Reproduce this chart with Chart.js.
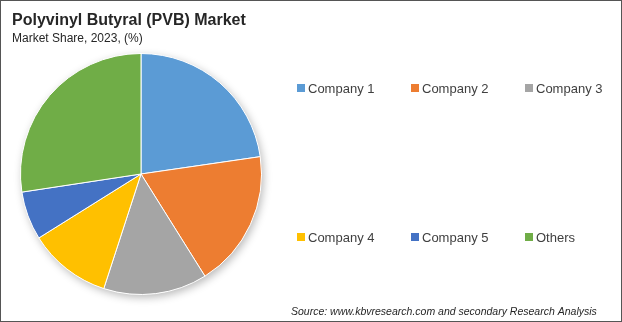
<!DOCTYPE html>
<html>
<head>
<meta charset="utf-8">
<script src="https://cdn.jsdelivr.net/npm/chart.js@4/dist/chart.umd.min.js"></script>
<style>
  html, body { margin: 0; padding: 0; background: #fff; }
  #wrap { width: 622px; height: 322px; position: relative; }
  canvas { display: block; }
</style>
</head>
<body>
<div id="wrap"><canvas id="chart" width="622" height="322"></canvas></div>
<script>
// Market share by company
const companies = ['Company 1', 'Company 2', 'Company 3', 'Company 4', 'Company 5', 'Others'];
const shares = [22.7, 18.4, 13.9, 11.1, 6.5, 27.4];
const sliceColors = ['#5B9BD5', '#ED7D31', '#A5A5A5', '#FFC000', '#4472C4', '#70AD47'];

// soft shadow under the pie
const pieShadow = {
  id: 'pieShadow',
  beforeDatasetsDraw(chart) {
    const arc = chart.getDatasetMeta(0).data[0];
    if (!arc) return;
    const ctx = chart.ctx;
    ctx.save();
    ctx.shadowColor = 'rgba(0,0,0,0.28)';
    ctx.shadowBlur = 9;
    ctx.shadowOffsetX = 2;
    ctx.shadowOffsetY = 3;
    ctx.fillStyle = '#fff';
    ctx.beginPath();
    ctx.arc(arc.x, arc.y, arc.outerRadius, 0, Math.PI * 2);
    ctx.fill();
    ctx.restore();
  }
};

// titles, legend, source and frame
const decorations = {
  id: 'decorations',
  afterDraw(chart) {
    const ctx = chart.ctx;
    ctx.save();
    ctx.fillStyle = '#262626';
    ctx.textBaseline = 'alphabetic';
    ctx.font = 'bold 16px "Liberation Sans", Arial, sans-serif';
    ctx.fillText('Polyvinyl Butyral (PVB) Market', 12, 25);
    ctx.font = '12px "Liberation Sans", Arial, sans-serif';
    ctx.fillText('Market Share, 2023, (%)', 12, 42);

    // legend: two rows of three
    const cols = [297, 411, 525];
    const rows = [88, 237];
    ctx.font = '13px "Liberation Sans", Arial, sans-serif';
    ctx.textBaseline = 'middle';
    chart.data.labels.forEach((lab, i) => {
      const x = cols[i % 3];
      const y = rows[Math.floor(i / 3)];
      ctx.fillStyle = chart.data.datasets[0].backgroundColor[i];
      ctx.fillRect(x, y - 4, 8, 8);
      ctx.fillStyle = '#404040';
      ctx.fillText(lab, x + 11, y + 1);
    });

    ctx.font = 'italic 10.5px "Liberation Sans", Arial, sans-serif';
    ctx.fillStyle = '#262626';
    ctx.textBaseline = 'alphabetic';
    ctx.fillText('Source: www.kbvresearch.com and secondary Research Analysis', 291, 315);

    ctx.strokeStyle = '#555';
    ctx.lineWidth = 1;
    ctx.strokeRect(0.5, 0.5, chart.width - 1, chart.height - 1);
    ctx.restore();
  }
};

new Chart(document.getElementById('chart'), {
  type: 'pie',
  data: {
    labels: companies,
    datasets: [{
      data: shares,
      backgroundColor: sliceColors,
      borderColor: '#ffffff',
      borderWidth: 1
    }]
  },
  options: {
    responsive: false,
    animation: false,
    layout: { padding: { left: 20, top: 53, right: 360, bottom: 27 } },
    plugins: {
      legend: { display: false },
      title: { display: false },
      tooltip: { enabled: false }
    }
  },
  plugins: [pieShadow, decorations]
});
</script>
</body>
</html>
